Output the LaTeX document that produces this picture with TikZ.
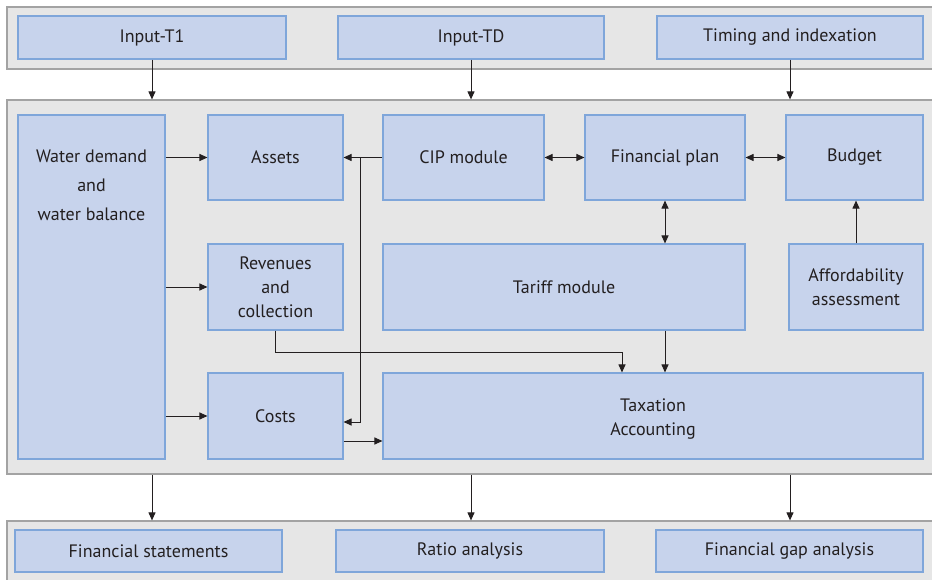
\documentclass[tikz,border=0pt]{standalone}
\usepackage{fontspec}
\setmainfont{PT Sans}
\usetikzlibrary{arrows.meta,calc}
\definecolor{boxfill}{HTML}{C7D3EC}
\definecolor{boxline}{HTML}{7FA6DA}
\definecolor{grpfill}{HTML}{E6E6E6}
\definecolor{grpline}{HTML}{A3A3A3}
\definecolor{ink}{HTML}{231F20}
\tikzset{
  grp/.style={draw=grpline, fill=grpfill, line width=1.2pt, inner sep=0pt},
  box/.style={draw=boxline, fill=boxfill, line width=1.1pt, inner sep=0pt,
    align=center, text=ink, font=\fontsize{18}{24}\selectfont},
  lbl/.style={align=center, text=ink, font=\fontsize{18}{29}\selectfont},
  arr/.style={draw=ink, line width=1pt, -{Triangle[length=8pt,width=7pt]}},
  darr/.style={draw=ink, line width=1pt, {Triangle[length=8pt,width=7pt]}-{Triangle[length=8pt,width=7pt]}}
}
\begin{document}
\begin{tikzpicture}[x=1pt,y=-1pt]
\useasboundingbox (0,0) rectangle (932,580);
\clip (0,0) rectangle (932,580);
\fill[white] (0,0) rectangle (932,580);

% group panels
\node[grp, minimum width=933pt, minimum height=62pt] (top) at (473.5,38) {};
\node[grp, minimum width=933pt, minimum height=374pt] (mid) at (473.5,287) {};
\node[grp, minimum width=933pt, minimum height=69pt] (bot) at (473.5,555.5) {};

% inputs
\node[box, minimum width=268pt, minimum height=43pt] (in1) at (152,37.5) {Input-T1};
\node[box, minimum width=266pt, minimum height=43pt] (in2) at (471,37.5) {Input-TD};
\node[box, minimum width=266pt, minimum height=43pt] (in3) at (790,37.5) {Timing and indexation};

% model modules
\node[box, minimum width=147pt, minimum height=344pt] (water) at (91.5,287) {};
\node[lbl] at (91.5,185) {Water demand\\and\\water balance};
\node[box, minimum width=135pt, minimum height=85pt] (assets) at (275.5,157.5) {Assets};
\node[box, minimum width=161pt, minimum height=85pt] (cip) at (463.5,157.5) {CIP module};
\node[box, minimum width=160pt, minimum height=85pt] (fp) at (665,157.5) {Financial plan};
\node[box, minimum width=137pt, minimum height=85pt] (budget) at (854.5,157.5) {Budget};
\node[box, minimum width=135pt, minimum height=86pt] (rev) at (275.5,287) {Revenues\\and\\collection};
\node[box, minimum width=362pt, minimum height=86pt] (tariff) at (564,287) {Tariff module};
\node[box, minimum width=134pt, minimum height=86pt] (aff) at (856,287) {Affordability\\assessment};
\node[box, minimum width=135pt, minimum height=86pt] (costs) at (275.5,416) {Costs};
\node[box, minimum width=540pt, minimum height=86pt] (tax) at (653,416) {};
\node[lbl, font=\fontsize{18}{24}\selectfont] at (653,419) {Taxation\\Accounting};

% outputs
\node[box, minimum width=267pt, minimum height=42pt] (fs) at (148.5,551) {Financial statements};
\node[box, minimum width=268pt, minimum height=42pt] (ra) at (470,551) {Ratio analysis};
\node[box, minimum width=267pt, minimum height=42pt] (gap) at (789.5,551) {Financial gap analysis};

% inputs into the model, model into the outputs
\foreach \n in {in1, in2, in3}{
  \draw[arr] (\n.south) -- (\n.south |- mid.north);
  \draw[arr] (\n.south |- mid.south) -- (\n.south |- bot.north);
}

% demand feeds
\draw[arr] (water.east |- assets.west) -- (assets.west);
\draw[arr] (water.east |- rev.west) -- (rev.west);
\draw[arr] (water.east |- costs.west) -- (costs.west);

% CIP to assets and costs
\coordinate (j) at (360,157.5);
\draw[arr] (cip.west) -- (assets.east);
\draw[arr] (j) |- ([yshift=-6pt]costs.east);

% plan links
\draw[darr] (cip.east) -- (fp.west);
\draw[darr] (fp.east) -- (budget.west);
\draw[darr] (fp.south) -- (fp.south |- tariff.north);
\draw[arr] (aff.north) -- (aff.north |- budget.south);

% into taxation and accounting
\coordinate (k) at (622,352);
\draw[arr] (rev.south) |- (k) -- (k |- tax.north);
\draw[arr] (fp.south |- tariff.south) -- (fp.south |- tax.north);
\coordinate (c) at ([yshift=-25pt]costs.east);
\draw[arr] (c) -- (c -| tax.west);
\end{tikzpicture}
\end{document}
